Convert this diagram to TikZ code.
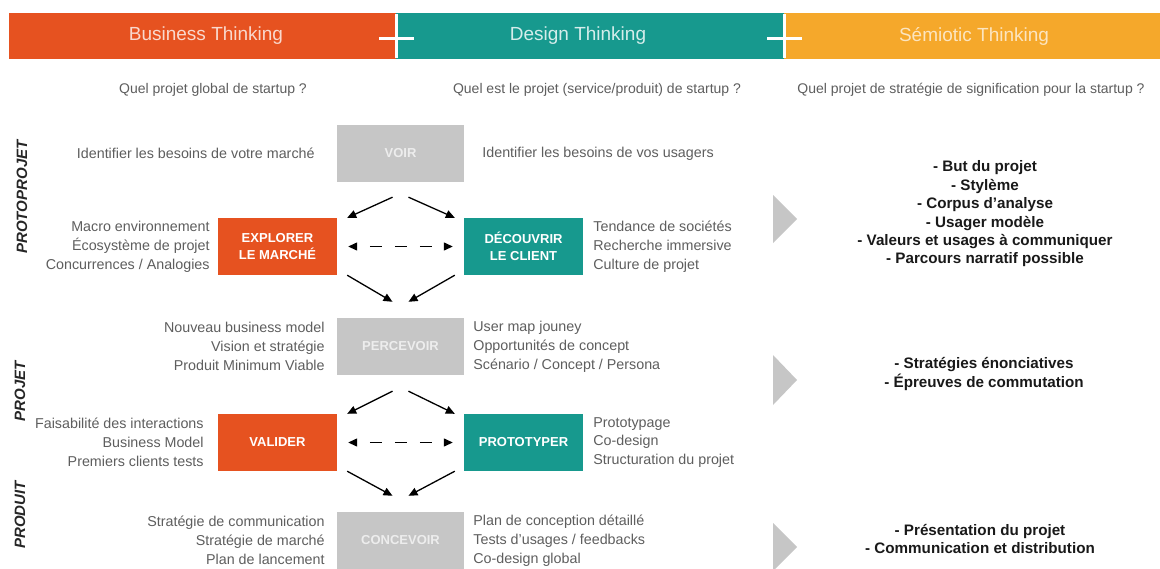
\documentclass[tikz,border=0pt]{standalone}
\usepackage{fontspec}
\setmainfont{Liberation Sans}
\usetikzlibrary{arrows.meta,positioning,calc}
\definecolor{bizorange}{HTML}{E65220}
\definecolor{designteal}{HTML}{17998E}
\definecolor{semioyellow}{HTML}{F5A82B}
\definecolor{stepgrey}{HTML}{C6C6C6}
\definecolor{desctext}{HTML}{5E5E5E}
\tikzset{
  headtext/.style={font=\fontsize{19}{22}\selectfont},
  question/.style={font=\fontsize{14}{17}\selectfont,text=desctext},
  phase/.style={rotate=90,font=\fontsize{15}{18}\selectfont\bfseries\itshape,text=black!85},
  stage/.style={minimum width=119pt,minimum height=57pt,inner sep=0pt,align=center,text=white,font=\fontsize{13}{16.5}\selectfont\bfseries},
  hub/.style={stage,fill=stepgrey,minimum width=127pt,text=white!93!black},
  desc/.style={font=\fontsize{14.3}{18.8}\selectfont,text=desctext,inner sep=0pt},
  semio/.style={font=\fontsize{15.2}{18.4}\selectfont\bfseries,align=center,text=black!90,inner sep=0pt},
  flow/.style={-{Triangle[length=9pt,width=8pt]},line width=1.3pt},
  exchange/.style={{Triangle[length=9pt,width=8pt]}-{Triangle[length=9pt,width=8pt]},line width=1.3pt,dash pattern=on 12pt off 13pt,dash phase=12pt}
}

\begin{document}
\begin{tikzpicture}[x=1pt,y=-1pt]
  \useasboundingbox[fill=white] (0,0) rectangle (1160,568);

  % header bar
  \fill[bizorange] (9,13) rectangle (396,59);
  \fill[designteal] (396,13) rectangle (784,59);
  \fill[semioyellow] (784,13) rectangle (1160,59);
  \draw[white,line width=3pt] (396,14) -- (396,58) (379,38) -- (414,38);
  \draw[white,line width=3pt] (784,14) -- (784,58) (767,38) -- (802,38);
  \node[headtext,text=white!78!bizorange] (biz) at (206,36) {Business Thinking};
  \node[headtext,text=white!82!designteal] (design) at (578,36) {Design Thinking};
  \node[headtext,text=white!70!semioyellow] (semiotic) at (974,36) {Sémiotic Thinking};

  \node[question] (qbiz) at (213,90) {Quel projet global de startup ?};
  \node[question] (qdesign) at (597,90) {Quel est le projet (service/produit) de startup ?};
  \node[question] (qsemio) at (971,90) {Quel projet de stratégie de signification pour la startup ?};

  \node[phase] (protoprojet) at (22,197) {PROTOPROJET};
  \node[phase] (projet) at (20,391) {PROJET};
  \node[phase] (produit) at (20,515) {PRODUIT};

  % steps
  \node[hub] (voir) at (400.5,153.5) {VOIR};
  \node[stage,fill=bizorange] (explorer) at (277.5,246.5) {EXPLORER\\LE MARCHÉ};
  \node[stage,fill=designteal] (decouvrir) at (523.5,246.5) {DÉCOUVRIR\\LE CLIENT};
  \node[hub] (percevoir) at (400.5,346.5) {PERCEVOIR};
  \node[stage,fill=bizorange] (valider) at (277.5,442.5) {VALIDER};
  \node[stage,fill=designteal] (prototyper) at (523.5,442.5) {PROTOTYPER};
  \node[hub] (concevoir) at (400.5,540.5) {CONCEVOIR};

  \node[desc,left=22pt of voir] (voirL) {Identifier les besoins de votre marché};
  \node[desc,right=18pt of voir] (voirR) {Identifier les besoins de vos usagers};
  \node[desc,align=right,left=8pt of explorer] (explorerL) {Macro environnement\\Écosystème de projet\\Concurrences / Analogies};
  \node[desc,align=left,right=10pt of decouvrir] (decouvrirR) {Tendance de sociétés\\Recherche immersive\\Culture de projet};
  \node[desc,align=right,left=12pt of percevoir] (percevoirL) {Nouveau business model\\Vision et stratégie\\Produit Minimum Viable};
  \node[desc,align=left,right=9pt of percevoir] (percevoirR) {User map jouney\\Opportunités de concept\\Scénario / Concept / Persona};
  \node[desc,align=right,left=14pt of valider] (validerL) {Faisabilité des interactions\\Business Model\\Premiers clients tests};
  \node[desc,align=left,right=10pt of prototyper] (prototyperR) {Prototypage\\Co-design\\Structuration du projet};
  \node[desc,align=right,left=12pt of concevoir] (concevoirL) {Stratégie de communication\\Stratégie de marché\\Plan de lancement};
  \node[desc,align=left,right=9pt of concevoir] (concevoirR) {Plan de conception détaillé\\Tests d’usages / feedbacks\\Co-design global};

  % connectors
  \draw[flow] ($(voir.south)+(-8,15)$) -- ($(explorer.north east)+(10,0)$);
  \draw[flow] ($(voir.south)+(8,15)$) -- ($(decouvrir.north west)+(-9,0)$);
  \draw[exchange] ($(explorer.east)+(11,0)$) -- ($(decouvrir.west)+(-11,0)$);
  \draw[flow] ($(explorer.south east)+(10,0)$) -- ($(percevoir.north)+(-8,-16)$);
  \draw[flow] ($(decouvrir.south west)+(-9,0)$) -- ($(percevoir.north)+(8,-16)$);
  \draw[flow] ($(percevoir.south)+(-8,16)$) -- ($(valider.north east)+(10,0)$);
  \draw[flow] ($(percevoir.south)+(8,16)$) -- ($(prototyper.north west)+(-9,0)$);
  \draw[exchange] ($(valider.east)+(11,0)$) -- ($(prototyper.west)+(-11,0)$);
  \draw[flow] ($(valider.south east)+(10,0)$) -- ($(concevoir.north)+(-8,-16)$);
  \draw[flow] ($(prototyper.south west)+(-9,0)$) -- ($(concevoir.north)+(8,-16)$);

  % semiotic column
  \fill[stepgrey] (773,195) -- (797,219) -- (773,243) -- cycle;
  \fill[stepgrey] (773,355) -- (797,380) -- (773,405) -- cycle;
  \fill[stepgrey] (773,523) -- (797,547) -- (773,571) -- cycle;
  \node[semio] (semioA) at (985,214) {- But du projet\\- Stylème\\- Corpus d’analyse\\- Usager modèle\\- Valeurs et usages à communiquer\\- Parcours narratif possible};
  \node[semio] (semioB) at (984,374) {- Stratégies énonciatives\\- Épreuves de commutation};
  \node[semio] (semioC) at (980,539) {- Présentation du projet\\- Communication et distribution};
\end{tikzpicture}
\end{document}
